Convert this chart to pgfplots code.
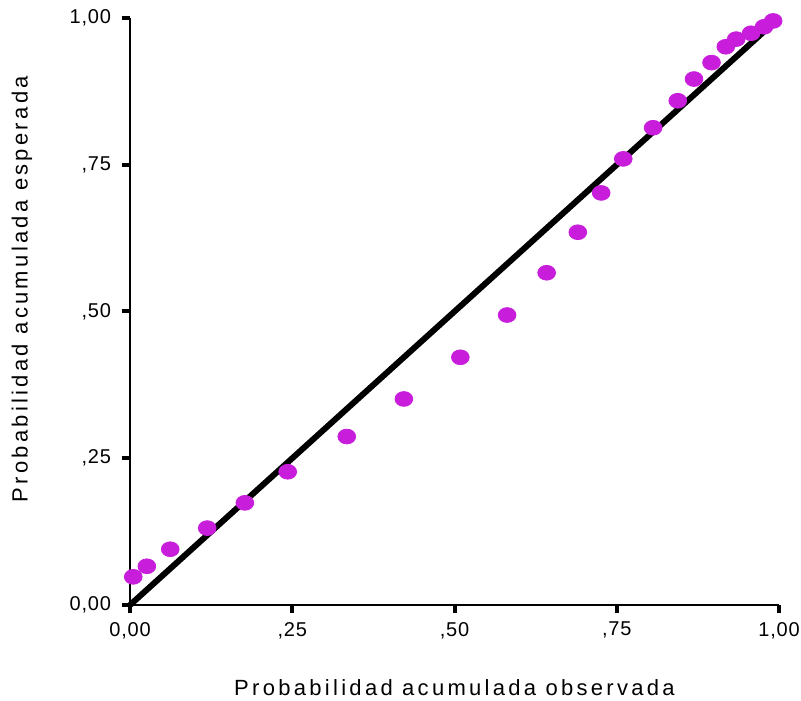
\documentclass[border=0pt]{standalone}
\usepackage{fontspec}
\setmainfont{Liberation Sans}[LetterSpace=15]
\usepackage{pgfplots}
\pgfplotsset{compat=1.18}
\definecolor{ppmag}{RGB}{200,30,220}

\begin{document}
\begin{tikzpicture}
  \begin{axis}[
    width=324.5pt, height=293.5pt,
    scale only axis,
    axis lines=left,
    axis line style={line width=1pt, -},
    xmin=0, xmax=1, ymin=0, ymax=1,
    xtick={0,0.25,0.5,0.75,1},
    ytick={0,0.25,0.5,0.75,1},
    xticklabels={0{,}00, {,}25, {,}50, {,}75, 1{,}00},
    yticklabels={0{,}00, {,}25, {,}50, {,}75, 1{,}00},
    tick align=outside,
    major tick length=4pt,
    tick style={line width=2pt, black},
    /pgf/number format/assume math mode=true,
    tick label style={font=\fontsize{10pt}{12pt}\selectfont\addfontfeatures{LetterSpace=4}},
    xticklabel style={yshift=-1pt},
    yticklabel style={xshift=-2pt},
    label style={font=\fontsize{11pt}{13pt}\selectfont},
    xlabel={Probabilidad acumulada observada},
    ylabel={Probabilidad acumulada esperada},
    xlabel style={at={(axis description cs:0.5,-0.1414)}, anchor=center},
    ylabel style={at={(axis description cs:-0.1664,0.538)}, anchor=center},
    clip=false,
  ]
    % diagonal reference line
    \addplot[black, line width=3pt] coordinates {(0,0) (1,1)};
    % observed points
    \addplot[only marks, mark=*, mark size=3.7pt,
      mark options={fill=ppmag, draw=ppmag, xscale=1.2}] coordinates {
      (0.005,0.048) (0.026,0.066) (0.062,0.095) (0.119,0.131)
      (0.177,0.174) (0.243,0.227) (0.334,0.287) (0.422,0.351)
      (0.509,0.422) (0.581,0.494) (0.642,0.566) (0.690,0.635)
      (0.726,0.702) (0.760,0.760) (0.806,0.813) (0.844,0.859)
      (0.869,0.896) (0.896,0.924) (0.918,0.951) (0.934,0.964)
      (0.957,0.974) (0.977,0.985) (0.991,0.995)
    };
  \end{axis}
  \pgfresetboundingbox
  \path (current axis.south west) ++(-65pt,-47.5pt)
    rectangle ([shift={(11pt,9pt)}]current axis.north east);
\end{tikzpicture}
\end{document}
